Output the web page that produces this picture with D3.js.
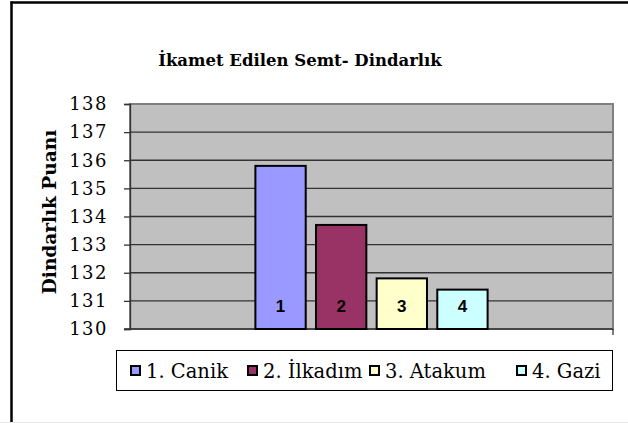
<!DOCTYPE html>
<html>
<head>
<meta charset="utf-8">
<script src="https://cdn.jsdelivr.net/npm/d3@7"></script>
<style>
  html, body { margin: 0; padding: 0; background: #fff; overflow: hidden; }
  svg { display: block; }
</style>
</head>
<body>
<div id="chart"></div>
<script>
// data
var categories = ['1', '2', '3', '4'];
var seriesNames = ['1. Canik', '2. İlkadım', '3. Atakum', '4. Gazi'];
var values = [135.8, 133.7, 131.8, 131.4];
var colors = ['#9999ff', '#993366', '#ffffcc', '#ccffff'];
var yTicks = [130, 131, 132, 133, 134, 135, 136, 137, 138];

var width = 628, height = 423;
var margin = {left: 130, right: 15, top: 104, bottom: 94};
var serif = '"DejaVu Serif", serif';

var svg = d3.select('#chart').append('svg')
    .attr('width', width).attr('height', height);

// outer frame: only top and left edges are visible in the crop
svg.append('line')
    .attr('x1', 10.5).attr('x2', width).attr('y1', 2.5).attr('y2', 2.5)
    .attr('stroke', '#000').attr('stroke-width', 2.5);
svg.append('line')
    .attr('x1', 11.5).attr('x2', 11.5).attr('y1', 1.5).attr('y2', height)
    .attr('stroke', '#000').attr('stroke-width', 2.5);
svg.append('line')
    .attr('x1', 0).attr('x2', width).attr('y1', 422.5).attr('y2', 422.5)
    .attr('stroke', '#e6e6e6');

var plotW = width - margin.left - margin.right;
var plotH = height - margin.top - margin.bottom;

var y = d3.scaleLinear().domain([130, 138]).range([margin.top + plotH, margin.top]);
var x0 = d3.scaleBand().domain(['g']).range([margin.left, margin.left + plotW])
    .paddingInner(0).paddingOuter(0.54);
var x1 = d3.scaleBand().domain(categories).range([0, x0.bandwidth()]).paddingInner(0.17);

// plot background
svg.append('rect')
    .attr('x', margin.left).attr('y', margin.top)
    .attr('width', plotW).attr('height', plotH)
    .attr('fill', '#c0c0c0');

// gridlines
svg.append('g').selectAll('line')
    .data(yTicks.slice(1, -1))
    .enter().append('line')
    .attr('x1', margin.left).attr('x2', margin.left + plotW)
    .attr('y1', function(d) { return y(d); }).attr('y2', function(d) { return y(d); })
    .attr('stroke', '#333').attr('stroke-width', 1.3);

// plot border
svg.append('rect')
    .attr('x', margin.left).attr('y', margin.top)
    .attr('width', plotW).attr('height', plotH)
    .attr('fill', 'none')
    .attr('stroke', '#808080').attr('stroke-width', 2);

// y axis
var yAxis = d3.axisLeft(y).tickValues(yTicks).tickSize(6).tickPadding(16);
var ga = svg.append('g').attr('transform', 'translate(' + margin.left + ',0)').call(yAxis);
ga.select('.domain').attr('stroke', '#333').attr('stroke-width', 1.3);
ga.selectAll('.tick line').attr('stroke', '#333').attr('stroke-width', 1.3);
ga.selectAll('.tick text')
    .attr('font-family', serif)
    .attr('font-size', 18)
    .attr('letter-spacing', 1.5)
    .attr('fill', '#000');

// x axis baseline
svg.append('line')
    .attr('x1', margin.left - 6).attr('x2', margin.left + plotW)
    .attr('y1', y(130)).attr('y2', y(130))
    .attr('stroke', '#333').attr('stroke-width', 1.3);
svg.append('line')
    .attr('x1', margin.left + plotW).attr('x2', margin.left + plotW)
    .attr('y1', y(130)).attr('y2', y(130) + 6)
    .attr('stroke', '#333').attr('stroke-width', 1.3);

// bars
var bars = svg.append('g').attr('transform', 'translate(' + x0('g') + ',0)');
bars.selectAll('rect')
    .data(values)
    .enter().append('rect')
    .attr('x', function(d, i) { return x1(categories[i]); })
    .attr('y', function(d) { return y(d); })
    .attr('width', x1.bandwidth())
    .attr('height', function(d) { return y(130) - y(d); })
    .attr('fill', function(d, i) { return colors[i]; })
    .attr('stroke', '#000').attr('stroke-width', 2);

bars.selectAll('text')
    .data(values)
    .enter().append('text')
    .attr('x', function(d, i) { return x1(categories[i]) + x1.bandwidth() / 2; })
    .attr('y', y(130.8))
    .attr('dy', '0.35em')
    .attr('text-anchor', 'middle')
    .attr('font-family', 'Arial, "Liberation Sans", sans-serif')
    .attr('font-weight', 'bold')
    .attr('font-size', 17)
    .text(function(d, i) { return categories[i]; });

// title
svg.append('text')
    .attr('x', 300).attr('y', 66)
    .attr('text-anchor', 'middle')
    .attr('font-family', serif)
    .attr('font-weight', 'bold')
    .attr('font-size', 16.5)
    .text('İkamet Edilen Semt- Dindarlık');

// y axis title
svg.append('text')
    .attr('transform', 'translate(56,212) rotate(-90)')
    .attr('text-anchor', 'middle')
    .attr('font-family', serif)
    .attr('font-weight', 'bold')
    .attr('font-size', 18.5)
    .text('Dindarlık Puanı');

// legend
var legend = svg.append('g');
legend.append('rect')
    .attr('x', 116.5).attr('y', 350.5)
    .attr('width', 496).attr('height', 40)
    .attr('fill', '#fff').attr('stroke', '#000').attr('stroke-width', 1);

var legendX = [130, 247, 369, 516];
var items = legend.selectAll('g.item')
    .data(seriesNames)
    .enter().append('g')
    .attr('class', 'item')
    .attr('transform', function(d, i) { return 'translate(' + legendX[i] + ',371)'; });
items.append('rect')
    .attr('x', 1).attr('y', -5)
    .attr('width', 9).attr('height', 9)
    .attr('fill', function(d, i) { return colors[i]; })
    .attr('stroke', '#000').attr('stroke-width', 2);
items.append('text')
    .attr('x', 16).attr('dy', '0.35em')
    .attr('font-family', serif)
    .attr('font-size', 19.5)
    .text(function(d) { return d; });
</script>
</body>
</html>
